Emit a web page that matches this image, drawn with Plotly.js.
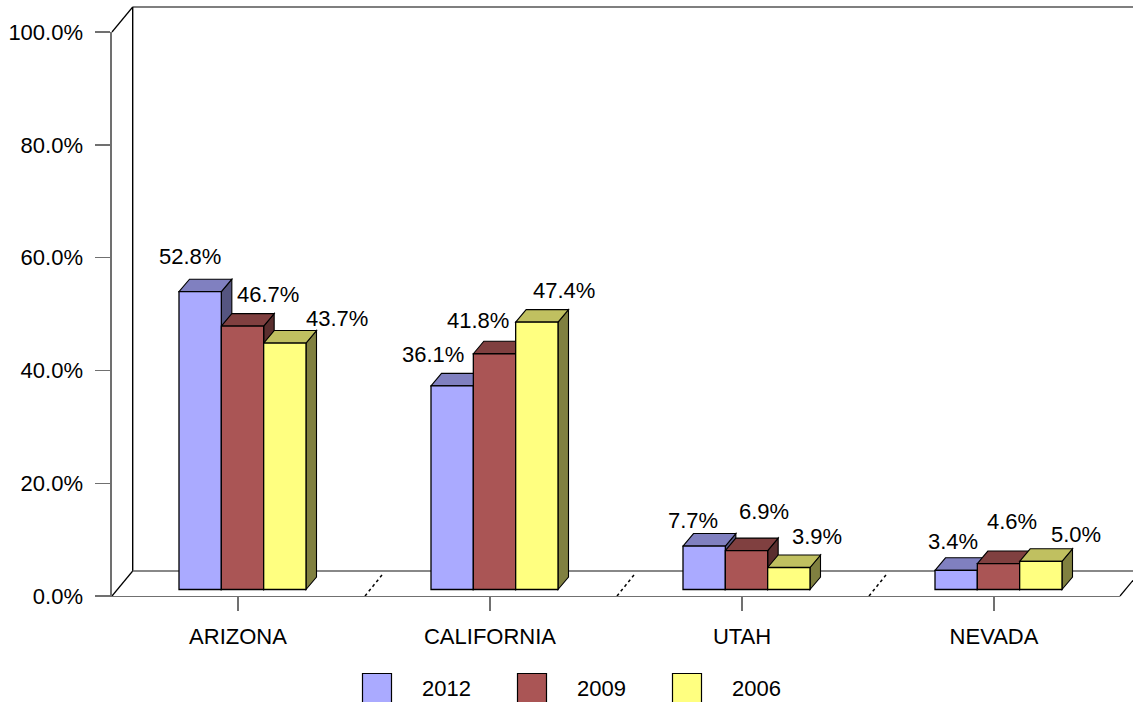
<!DOCTYPE html>
<html>
<head>
<meta charset="utf-8">
<script src="https://cdn.plot.ly/plotly-3.0.1.min.js"></script>
<style>html,body{margin:0;padding:0;background:#fff;overflow:hidden}</style>
</head>
<body>
<div id="chart" style="width:1133px;height:702px"></div>
<script>
var categories = ['ARIZONA', 'CALIFORNIA', 'UTAH', 'NEVADA'];
var years = ['2012', '2009', '2006'];
var values2012 = [52.8, 36.1, 7.7, 3.4];
var values2009 = [46.7, 41.8, 6.9, 4.6];
var values2006 = [43.7, 47.4, 3.9, 5.0];
var yTicks = [0, 20, 40, 60, 80, 100];

var seriesValues = [values2012, values2009, values2006];
var frontColors = ['#AAAAFF', '#AA5555', '#FFFF80'];
var topColors = ['#8080C0', '#804040', '#C0C060'];
var sideColors = ['#555580', '#5A2E2E', '#808040'];

// Plot frame in pixels
var W = 1133, H = 702, L = 112, R = 1120, T = 32, B = 596;
var pxX = (R - L) / 4, pxY = (B - T) / 100;   // pixels per axis unit
var wallDX = 20.7, wallDY = 25;               // floor depth in px
var barDX = 10.5, barDY = 12.5;               // bar depth in px
var barShiftX = 4.5, barLift = 6.5;           // bars stand inside the floor
var barWidthFrac = 127 / 252;                 // group width as a share of a category

function px(x) { return (x - L) / (R - L); }
function py(y) { return (B - y) / (B - T); }

var xCenters = categories.map(function (_, i) { return i + barShiftX / pxX; });
var baseVal = barLift / pxY;

// Fronts: real bar traces
var traces = years.map(function (yr, s) {
  return {
    type: 'bar', name: yr,
    x: xCenters,
    y: seriesValues[s],
    base: categories.map(function () { return baseVal; }),
    marker: { color: frontColors[s], line: { color: '#000', width: 1.3 } },
    hoverinfo: 'x+y', showlegend: false
  };
});

function poly(pts, fill) {
  var p = pts.map(function (q, k) { return (k ? 'L' : 'M') + q[0] + ',' + q[1]; }).join(' ') + ' Z';
  return { type: 'path', xref: 'x', yref: 'y', layer: 'below', path: p,
    fillcolor: fill, line: { color: '#000', width: 1.1 } };
}
function pline(x0, y0, x1, y1, color, w, dash) {
  return { type: 'line', xref: 'paper', yref: 'paper', layer: 'below',
    x0: px(x0), y0: py(y0), x1: px(x1), y1: py(y1),
    line: { color: color, width: w, dash: dash || 'solid' } };
}

var shapes = [
  pline(L + wallDX, T - wallDY, W, T - wallDY, '#000', 1.2),
  pline(L + wallDX, T - wallDY, L + wallDX, B - wallDY, '#000', 1.4),
  pline(L, T, L + wallDX, T - wallDY, '#000', 1.2),
  pline(L, B, L + wallDX, B - wallDY, '#000', 1.2),
  pline(L + wallDX, B - wallDY, W, B - wallDY, '#606060', 1.4),
  pline(R, B, W, B - wallDY * (W - R) / wallDX, '#000', 1.2)
];
for (var d = 1; d < categories.length; d++) {
  var dx0 = L + d * pxX + 1;
  shapes.push(pline(dx0, B, dx0 + 17, B - 21, '#000', 1.5, 'dot'));
}

// Tops and sides of every bar, from the values
var dxU = barDX / pxX, dyU = barDY / pxY;
var oneW = barWidthFrac / years.length;
categories.forEach(function (_, c) {
  years.forEach(function (_, s) {
    var xl = xCenters[c] - barWidthFrac / 2 + s * oneW, xr = xl + oneW;
    var yt = baseVal + seriesValues[s][c];
    shapes.push(poly([[xr, baseVal], [xr + dxU, baseVal + dyU], [xr + dxU, yt + dyU], [xr, yt]], sideColors[s]));
    shapes.push(poly([[xl, yt], [xl + dxU, yt + dyU], [xr + dxU, yt + dyU], [xr, yt]], topColors[s]));
  });
});

// Value label placement relative to each bar's top centre (px)
var labelDX = [[-10, -19, -11, -3], [25.5, -17, 17.5, 13], [52, 27, 28, 35]];
var labelDY = [[35, 31, 26, 29], [32, 33, 39, 41.6], [25, 32, 31.5, 27]];
var font = { family: 'Liberation Sans, Arial, sans-serif', size: 22, color: '#000' };

var annotations = [];
years.forEach(function (_, s) {
  categories.forEach(function (_, c) {
    var xm = xCenters[c] - barWidthFrac / 2 + (s + 0.5) * oneW;
    annotations.push({
      x: xm, y: baseVal + seriesValues[s][c], xref: 'x', yref: 'y',
      text: seriesValues[s][c].toFixed(1) + '%', showarrow: false, font: font,
      xanchor: 'center', yanchor: 'middle',
      xshift: labelDX[s][c], yshift: labelDY[s][c]
    });
  });
});

// Legend
var legendX = [362.5, 517.5, 672.5];
years.forEach(function (yr, s) {
  shapes.push({ type: 'rect', xref: 'paper', yref: 'paper', layer: 'above',
    x0: px(legendX[s]), x1: px(legendX[s] + 29), y0: py(673.5), y1: py(705),
    fillcolor: frontColors[s], line: { color: '#000', width: 1.2 } });
  annotations.push({ xref: 'paper', yref: 'paper', x: px(legendX[s] + 57.5), y: py(688),
    text: yr, showarrow: false, font: font, xanchor: 'left', yanchor: 'middle' });
});

var layout = {
  width: W, height: H, autosize: false,
  margin: { l: L, r: W - R, t: T, b: H - B, pad: 0 },
  paper_bgcolor: '#fff', plot_bgcolor: 'rgba(0,0,0,0)',
  showlegend: false,
  barmode: 'group', bargap: 1 - barWidthFrac, bargroupgap: 0,
  font: font,
  xaxis: {
    type: 'linear', range: [-0.5, categories.length - 0.5],
    tickmode: 'array', tickvals: categories.map(function (_, i) { return i; }), ticktext: categories,
    ticks: 'outside', ticklen: 14, tickwidth: 1.4, tickcolor: '#707070',
    showline: true, linecolor: '#707070', linewidth: 1.4,
    showgrid: false, zeroline: false, tickfont: font, ticklabelstandoff: 6
  },
  yaxis: {
    range: [0, 100], tickmode: 'array', tickvals: yTicks,
    ticktext: yTicks.map(function (v) { return v.toFixed(1) + '%'; }),
    ticks: 'outside', ticklen: 15, tickwidth: 1.4, tickcolor: '#707070',
    showline: true, linecolor: '#707070', linewidth: 1.6,
    showgrid: false, zeroline: false, tickfont: font, ticklabelstandoff: 8
  },
  shapes: shapes,
  annotations: annotations
};

Plotly.newPlot('chart', traces, layout, { displayModeBar: false, staticPlot: true });
</script>
</body>
</html>
